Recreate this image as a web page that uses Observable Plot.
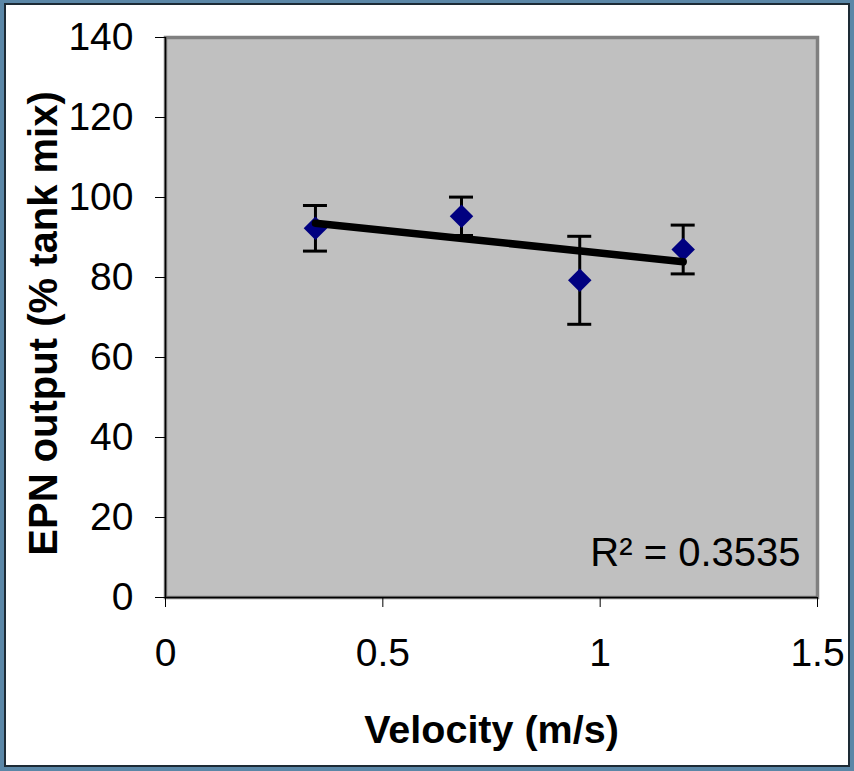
<!DOCTYPE html>
<html><head><meta charset="utf-8">
<script src="https://cdn.jsdelivr.net/npm/d3@7"></script>
<script src="https://cdn.jsdelivr.net/npm/@observablehq/plot@0.6"></script>
<style>
html,body{margin:0;padding:0;background:#5b87a7;width:854px;height:771px;overflow:hidden;}
#frame{position:absolute;left:4px;top:3px;width:842px;height:760px;background:#fff;border:2px solid #1d2b35;}
#chart{position:absolute;left:0;top:0;}
</style></head><body><div id="frame"></div><div id="chart"></div>
<script>
const velocity = [0.345, 0.681, 0.953, 1.191];
const output = [92.3, 95.3, 79.3, 87.0];
const errorBar = [5.7, 4.8, 11.0, 6.1];
const yTicks = [0, 20, 40, 60, 80, 100, 120, 140];
const xTicks = [0, 0.5, 1, 1.5];
const xLabel = "Velocity (m/s)";
const yLabel = "EPN output (% tank mix)";
const rSquaredLabel = "R² = 0.3535";

const data = velocity.map((v, i) => ({x: v, y: output[i], lo: output[i] - errorBar[i], hi: output[i] + errorBar[i]}));
const font = "'Liberation Sans', Arial, sans-serif";

const chart = Plot.plot({
  width: 854,
  height: 771,
  marginLeft: 165,
  marginRight: 37,
  marginTop: 37,
  marginBottom: 174,
  style: {background: "transparent", fontFamily: font, fontSize: "38px", color: "black", overflow: "visible"},
  x: {domain: [0, 1.5]},
  y: {domain: [0, 140]},
  marks: [
    Plot.frame({fill: "#C0C0C0", stroke: "#808080", strokeWidth: 3.5}),
    Plot.ruleX([0], {stroke: "black", strokeWidth: 1.5}),
    Plot.ruleY([0], {stroke: "black", strokeWidth: 1.5}),
    Plot.axisY({ticks: yTicks, tickSize: 10, tickPadding: 22, label: null, fontSize: 39, stroke: "black", tickFormat: d => `${d}`}),
    Plot.axisX({ticks: xTicks, tickSize: 10, tickPadding: 31, label: null, fontSize: 39, stroke: "black", tickFormat: d => `${d}`}),
    Plot.ruleX(data, {x: "x", y1: "lo", y2: "hi", stroke: "black", strokeWidth: 3}),
    Plot.ruleY(data, {y: "hi", x1: "x", x2: "x", insetLeft: -12, insetRight: -12, stroke: "black", strokeWidth: 3}),
    Plot.ruleY(data, {y: "lo", x1: "x", x2: "x", insetLeft: -12, insetRight: -12, stroke: "black", strokeWidth: 3}),
    Plot.dot(data, {x: "x", y: "y", symbol: "diamond2", r: 10.6, fill: "#000080", stroke: "none"}),
    Plot.linearRegressionY(data, {x: "x", y: "y", ci: 0, stroke: "black", strokeWidth: 7.5, strokeLinecap: "round"}),
    Plot.text([rSquaredLabel], {frameAnchor: "bottom-right", textAnchor: "end", lineAnchor: "middle", dx: -17, dy: -44, fontSize: 40, fill: "black"}),
    Plot.text([xLabel], {frameAnchor: "bottom", textAnchor: "middle", lineAnchor: "middle", dy: 133, fontSize: 39.5, fontWeight: "bold", fill: "black"}),
    Plot.text([yLabel], {frameAnchor: "left", textAnchor: "middle", lineAnchor: "middle", dx: -121, dy: 6, rotate: -90, fontSize: 40, fontWeight: "bold", fill: "black"})
  ]
});
document.getElementById("chart").appendChild(chart);
</script></body></html>
